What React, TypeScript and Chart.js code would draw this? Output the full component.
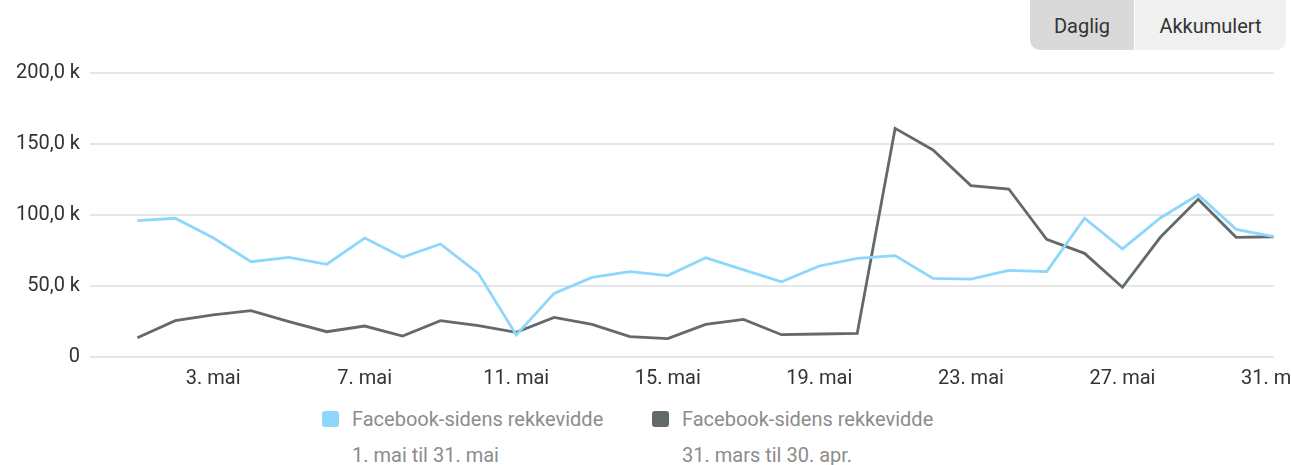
import React, { useEffect, useRef } from 'react';
import { Chart, registerables } from 'chart.js';

Chart.register(...registerables);

// ---- data ----
const days = [1, 2, 3, 4, 5, 6, 7, 8, 9, 10, 11, 12, 13, 14, 15, 16, 17, 18, 19, 20, 21, 22, 23, 24, 25, 26, 27, 28, 29, 30, 31];

// 1. mai til 31. mai
const currentReach = [
  96000, 97700, 84000, 67100, 70200, 65300, 83800, 70200, 79600, 58900,
  15500, 44800, 56100, 60100, 57300, 69900, 61300, 53000, 64100, 69500,
  71400, 55400, 54900, 61000, 60100, 97700, 76100, 97900, 114300, 89900, 84700,
];

// 31. mars til 30. apr.
const previousReach = [
  13600, 25600, 29600, 32600, 24900, 17800, 21800, 14800, 25600, 22100,
  17400, 27900, 23000, 14300, 12900, 23000, 26500, 15700, 16200, 16700,
  161000, 145800, 120700, 118300, 82900, 73000, 49100, 84300, 111100, 84300, 84700,
];

const xTickDays = [3, 7, 11, 15, 19, 23, 27, 31];
const xTickLabels = ['3. mai', '7. mai', '11. mai', '15. mai', '19. mai', '23. mai', '27. mai', '31. mai'];
const yTickValues = [0, 50000, 100000, 150000, 200000];
const yTickLabels = ['0', '50,0 k', '100,0 k', '150,0 k', '200,0 k'];

const seriesNames = ['Facebook-sidens rekkevidde', 'Facebook-sidens rekkevidde'];
const seriesPeriods = ['1. mai til 31. mai', '31. mars til 30. apr.'];
const seriesColors = ['#8dd6fc', '#636a6a'];
const buttonLabels = ['Daglig', 'Akkumulert'];

const FONT = 'Roboto';
const FS = 20;

export default function App() {
  const canvasRef = useRef<HTMLCanvasElement | null>(null);

  useEffect(() => {
    if (!canvasRef.current) return;
    const chart = new Chart(canvasRef.current, {
      type: 'line',
      data: {
        datasets: [
          {
            label: seriesNames[0],
            data: days.map((d, i) => ({ x: d, y: currentReach[i] })),
            borderColor: seriesColors[0],
            backgroundColor: seriesColors[0],
            borderWidth: 2.8,
            pointRadius: 0,
            tension: 0,
          },
          {
            label: seriesNames[1],
            data: days.map((d, i) => ({ x: d, y: previousReach[i] })),
            borderColor: seriesColors[1],
            backgroundColor: seriesColors[1],
            borderWidth: 2.8,
            pointRadius: 0,
            tension: 0,
          },
        ],
      },
      options: {
        animation: false,
        responsive: false,
        devicePixelRatio: 1,
        layout: { padding: { top: 73, right: 17, bottom: 0, left: 0 } },
        plugins: {
          legend: { display: false },
          tooltip: { enabled: false },
        },
        scales: {
          x: {
            type: 'linear',
            min: -0.25,
            max: 31,
            grid: { display: false, drawTicks: false },
            border: { display: false },
            afterBuildTicks: (scale: any) => {
              scale.ticks = xTickDays.map((v) => ({ value: v }));
            },
            afterFit: (scale: any) => {
              scale.height = 43;
              scale.paddingLeft = 0;
              scale.paddingRight = 0;
            },
            ticks: {
              autoSkip: false,
              maxRotation: 0,
              padding: 10,
              color: '#333333',
              font: { family: FONT, size: FS },
              callback: (value: any) => {
                const idx = xTickDays.indexOf(Number(value));
                return idx >= 0 ? xTickLabels[idx] : '';
              },
            },
          },
          y: {
            min: 0,
            max: 200000,
            grid: { color: '#e6e6e6', lineWidth: 2, drawTicks: false },
            border: { display: false },
            afterBuildTicks: (scale: any) => {
              scale.ticks = yTickValues.map((v) => ({ value: v }));
            },
            afterFit: (scale: any) => {
              scale.width = 90;
              scale.paddingTop = 0;
              scale.paddingBottom = 0;
            },
            ticks: {
              padding: 10,
              color: '#333333',
              font: { family: FONT, size: FS },
              callback: (value: any) => {
                const idx = yTickValues.indexOf(Number(value));
                return idx >= 0 ? yTickLabels[idx] : '';
              },
            },
          },
        },
      },
    } as any);
    return () => chart.destroy();
  }, []);

  const textStyle = {
    position: 'absolute' as const,
    left: 30,
    whiteSpace: 'nowrap' as const,
    fontFamily: FONT,
    fontSize: FS,
    lineHeight: FS + 'px',
    color: '#8c8c8c',
  };

  const legendItem = (i: number, left: number) => (
    <div key={i} style={{ position: 'absolute', left, top: 0 }}>
      <div
        style={{
          position: 'absolute',
          left: 0,
          top: 411,
          width: 17,
          height: 16,
          borderRadius: 3,
          background: seriesColors[i],
        }}
      />
      <div style={{ ...textStyle, top: 409 }}>{seriesNames[i]}</div>
      <div style={{ ...textStyle, top: 445 }}>{seriesPeriods[i]}</div>
    </div>
  );

  return (
    <div
      style={{
        position: 'absolute',
        left: 0,
        top: 0,
        width: 1291,
        height: 465,
        overflow: 'hidden',
        background: '#ffffff',
      }}
    >
      <canvas
        ref={canvasRef}
        width={1291}
        height={400}
        style={{ position: 'absolute', left: 0, top: 0, width: 1291, height: 400, display: 'block' }}
      />
      <div
        style={{
          position: 'absolute',
          left: 1030,
          top: -10,
          height: 60,
          display: 'flex',
          borderRadius: 10,
          overflow: 'hidden',
          background: '#ffffff',
          gap: 1,
        }}
      >
        {buttonLabels.map((b, i) => (
          <div
            key={b}
            style={{
              width: i === 0 ? 104 : 151,
              height: 60,
              paddingTop: 11,
              boxSizing: 'border-box',
              display: 'flex',
              alignItems: 'center',
              justifyContent: 'center',
              background: i === 0 ? '#d9d9d9' : '#f0f0f0',
              fontFamily: FONT,
              fontSize: FS,
              lineHeight: FS + 'px',
              color: '#333333',
            }}
          >
            {b}
          </div>
        ))}
      </div>
      {legendItem(0, 322)}
      {legendItem(1, 652)}
    </div>
  );
}
